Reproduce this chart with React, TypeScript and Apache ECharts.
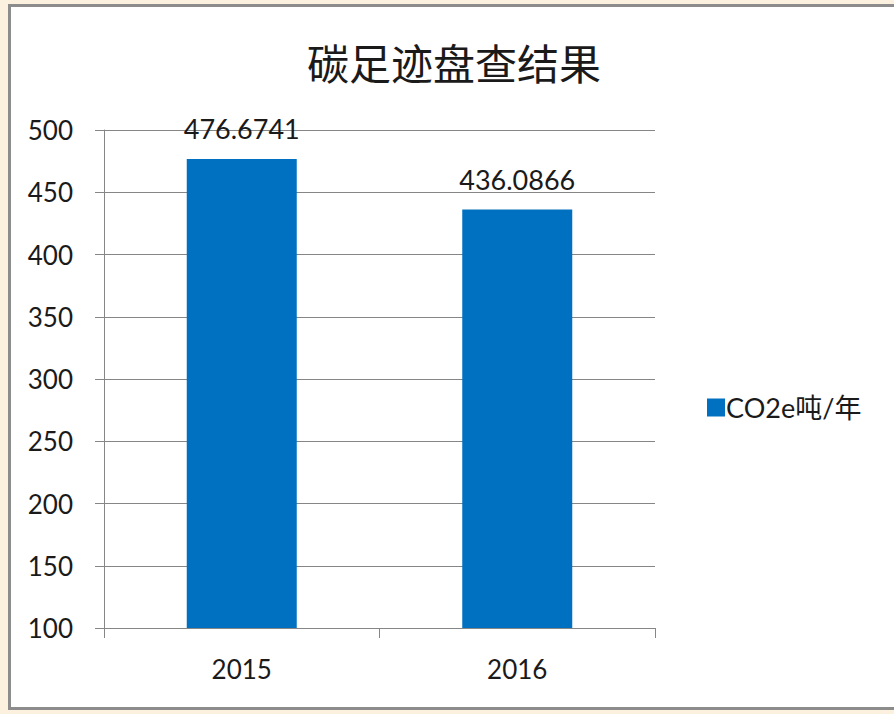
import React, { useEffect, useRef } from "react";
import * as echarts from "echarts";

const categories = ["2015", "2016"];
const values = [476.6741, 436.0866];
const seriesName = "CO2e吨/年";
const titleText = "碳足迹盘查结果";
const yMin = 100;
const yMax = 500;
const yInterval = 50;

export default function App() {
  const ref = useRef<HTMLDivElement>(null);
  useEffect(() => {
    const chart = echarts.init(ref.current!, undefined, { renderer: "svg" });
    const numFont = "Lato, 'Noto Sans', sans-serif";
    chart.setOption({
      animation: false,
      backgroundColor: "#fcf1de",
      graphic: [
        {
          type: "rect",
          shape: { x: 9.5, y: 5.5, width: 900, height: 703 },
          style: { fill: "#ffffff", stroke: "#8c8c8c", lineWidth: 3 },
          z: -10,
        },
      ],
      title: {
        text: titleText,
        left: 449,
        textAlign: "center",
        top: 35,
        textStyle: {
          fontFamily: "'Noto Sans CJK SC', sans-serif",
          fontSize: 42,
          fontWeight: "normal",
          color: "#1a1a1a",
        },
      },
      legend: {
        left: 702,
        top: 389,
        itemWidth: 18,
        itemHeight: 18,
        itemGap: 5,
        icon: "rect",
        textStyle: {
          fontFamily: "Lato, 'Noto Sans CJK SC', sans-serif",
          fontSize: 27,
          color: "#1a1a1a",
          padding: [0, 0, 0, -4],
        },
        data: [seriesName],
      },
      grid: { left: 104, right: 239, top: 130, bottom: 86, containLabel: false },
      xAxis: {
        type: "category",
        data: categories,
        axisLine: { show: true, lineStyle: { color: "#868686", width: 1 } },
        axisTick: { show: true, length: 10, lineStyle: { color: "#868686" } },
        axisLabel: { fontSize: 26, fontFamily: numFont, color: "#1a1a1a", margin: 28 },
      },
      yAxis: {
        type: "value",
        min: yMin,
        max: yMax,
        interval: yInterval,
        axisLine: { show: true, lineStyle: { color: "#868686", width: 1 } },
        axisTick: { show: true, length: 9, lineStyle: { color: "#868686" } },
        splitLine: { show: true, lineStyle: { color: "#868686", width: 1 } },
        axisLabel: { fontSize: 26, fontFamily: numFont, color: "#1a1a1a", margin: 31 },
      },
      series: [
        {
          name: seriesName,
          type: "bar",
          data: values,
          barWidth: 110,
          itemStyle: { color: "#0070c0" },
          label: {
            show: true,
            position: "top",
            distance: 17,
            fontSize: 27,
            fontFamily: numFont,
            color: "#1a1a1a",
            formatter: (p: any) => p.value.toFixed(4),
          },
        },
      ],
    });
    return () => chart.dispose();
  }, []);
  return (
    <div style={{ position: "fixed", left: 0, top: 0 }}>
      <div ref={ref} style={{ width: 894, height: 714 }} />
    </div>
  );
}
